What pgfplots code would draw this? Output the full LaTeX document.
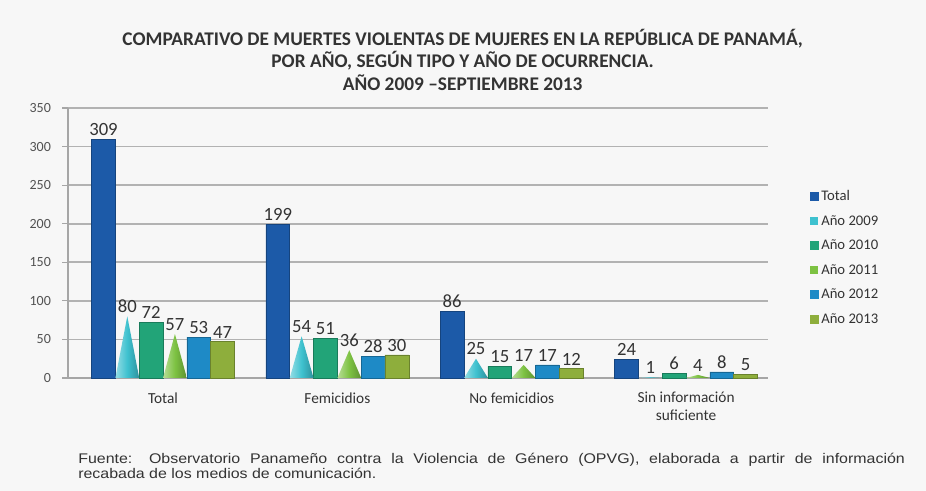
\documentclass[border=0pt]{standalone}
\usepackage{fontspec}
\setmainfont{Carlito}
\newfontfamily\footfont[FakeStretch=1.14]{Liberation Sans}
\usepackage{pgfplots}
\pgfplotsset{compat=1.18}
\definecolor{cTot}{HTML}{1C5AA8}
\definecolor{c09}{HTML}{3EC1CF}
\definecolor{c10}{HTML}{22A478}
\definecolor{c11}{HTML}{7DC242}
\definecolor{c12}{HTML}{1E8AC6}
\definecolor{c13}{HTML}{8EAE3C}
\definecolor{bg}{HTML}{F7F7F7}
\definecolor{txt}{HTML}{333333}
\begin{document}
\begin{tikzpicture}
\fill[bg] (0pt,0pt) rectangle (694.5pt,368.25pt);
\node[font=\bfseries\fontsize{14.5}{17}\selectfont, align=center, text=txt] at (347pt,323.5pt)
 {COMPARATIVO DE MUERTES VIOLENTAS DE MUJERES EN LA REPÚBLICA DE PANAMÁ,\\
  POR AÑO, SEGÚN TIPO Y AÑO DE OCURRENCIA.\\
  AÑO 2009 –SEPTIEMBRE 2013};
\begin{axis}[
  at={(51pt,84.75pt)}, anchor=south west, scale only axis,
  width=525pt, height=202.5pt,
  xmin=-0.545, xmax=3.47, ymin=0, ymax=350,
  ytick={0,50,...,350},
  xtick={0,1,2,3},
  xticklabels={Total, Femicidios, No femicidios, {Sin información\\suficiente}},
  xticklabel style={align=center, font=\fontsize{11.5}{13}\selectfont, text=txt, yshift=-3pt},
  yticklabel style={font=\fontsize{10.5}{12}\selectfont, text=txt!85, xshift=-5pt},
  /pgf/number format/assume math mode=true,
  major x tick style={draw=none},
  ytick style={gray!70, line width=0.8pt},
  tick align=outside,
  ymajorgrids, grid style={gray!60, line width=1.2pt},
  axis x line*=bottom, axis y line*=left,
  axis line style={gray!70, line width=0.9pt, -},
  clip=false,
  lbl/.style={nodes near coords, every node near coord/.append style={font=\fontsize{14}{15}\selectfont, text=txt, anchor=south, inner sep=2.5pt}},
  legend style={at={(1.054,0.715)}, anchor=north west, draw=none, fill=none,
     font=\fontsize{11}{12}\selectfont, text=txt, row sep=5.5pt},
  legend cell align=left,
]
% Total
\addplot[ybar, lbl, bar width=0.1366, bar shift=0, draw=cTot!75!black, line width=0.4pt, fill=cTot,
  legend image code/.code={\fill[cTot] (0pt,-3pt) rectangle (6pt,3pt);}]
  coordinates {(-0.3415,309) (0.6585,199) (1.6585,86) (2.6585,24)};
\addlegendentry{Total}
% 2009 labels (cones drawn below)
\addplot[lbl, draw=none, mark=none,
  legend image code/.code={\fill[c09] (0pt,-3pt) rectangle (6pt,3pt);}]
  coordinates {(-0.2049,80) (0.7951,54) (1.7951,25) (2.7951,1)};
\addlegendentry{Año 2009}
% 2010
\addplot[ybar, lbl, bar width=0.1366, bar shift=0, draw=c10!75!black, line width=0.4pt, fill=c10,
  legend image code/.code={\fill[c10] (0pt,-3pt) rectangle (6pt,3pt);}]
  coordinates {(-0.0683,72) (0.9317,51) (1.9317,15) (2.9317,6)};
\addlegendentry{Año 2010}
% 2011 labels (cones drawn below)
\addplot[lbl, draw=none, mark=none,
  legend image code/.code={\fill[c11] (0pt,-3pt) rectangle (6pt,3pt);}]
  coordinates {(0.0683,57) (1.0683,36) (2.0683,17) (3.0683,4)};
\addlegendentry{Año 2011}
% 2012
\addplot[ybar, lbl, bar width=0.1366, bar shift=0, draw=c12!75!black, line width=0.4pt, fill=c12,
  legend image code/.code={\fill[c12] (0pt,-3pt) rectangle (6pt,3pt);}]
  coordinates {(0.2049,53) (1.2049,28) (2.2049,17) (3.2049,8)};
\addlegendentry{Año 2012}
% 2013
\addplot[ybar, lbl, bar width=0.1366, bar shift=0, draw=c13!75!black, line width=0.4pt, fill=c13,
  legend image code/.code={\fill[c13] (0pt,-3pt) rectangle (6pt,3pt);}]
  coordinates {(0.3415,47) (1.3415,30) (2.3415,12) (3.3415,5)};
\addlegendentry{Año 2013}
% cones 2009
\addplot[forget plot, draw=none, left color=c09!55!white, right color=c09!75!black, middle color=c09]
  coordinates {(-0.2732,0) (-0.2049,80) (-0.1366,0)} -- cycle;
\addplot[forget plot, draw=none, left color=c09!55!white, right color=c09!75!black, middle color=c09]
  coordinates {(0.7268,0) (0.7951,54) (0.8634,0)} -- cycle;
\addplot[forget plot, draw=none, left color=c09!55!white, right color=c09!75!black, middle color=c09]
  coordinates {(1.7268,0) (1.7951,25) (1.8634,0)} -- cycle;
\addplot[forget plot, draw=none, left color=c09!55!white, right color=c09!75!black, middle color=c09]
  coordinates {(2.7268,0) (2.7951,1) (2.8634,0)} -- cycle;
% cones 2011
\addplot[forget plot, draw=none, left color=c11!55!white, right color=c11!75!black, middle color=c11]
  coordinates {(0,0) (0.0683,57) (0.1366,0)} -- cycle;
\addplot[forget plot, draw=none, left color=c11!55!white, right color=c11!75!black, middle color=c11]
  coordinates {(1,0) (1.0683,36) (1.1366,0)} -- cycle;
\addplot[forget plot, draw=none, left color=c11!55!white, right color=c11!75!black, middle color=c11]
  coordinates {(2,0) (2.0683,17) (2.1366,0)} -- cycle;
\addplot[forget plot, draw=none, left color=c11!55!white, right color=c11!75!black, middle color=c11]
  coordinates {(3,0) (3.0683,4) (3.1366,0)} -- cycle;
\end{axis}
\node[anchor=north west, text width=620pt, align=justify, inner sep=0pt,
  font=\footfont\fontsize{10.5}{11.25}\selectfont, text=txt] at (58.5pt,28.5pt)
 {Fuente: Observatorio Panameño contra la Violencia de Género (OPVG), elaborada a partir de información\linebreak recabada de los medios de comunicación.};
\end{tikzpicture}
\end{document}
